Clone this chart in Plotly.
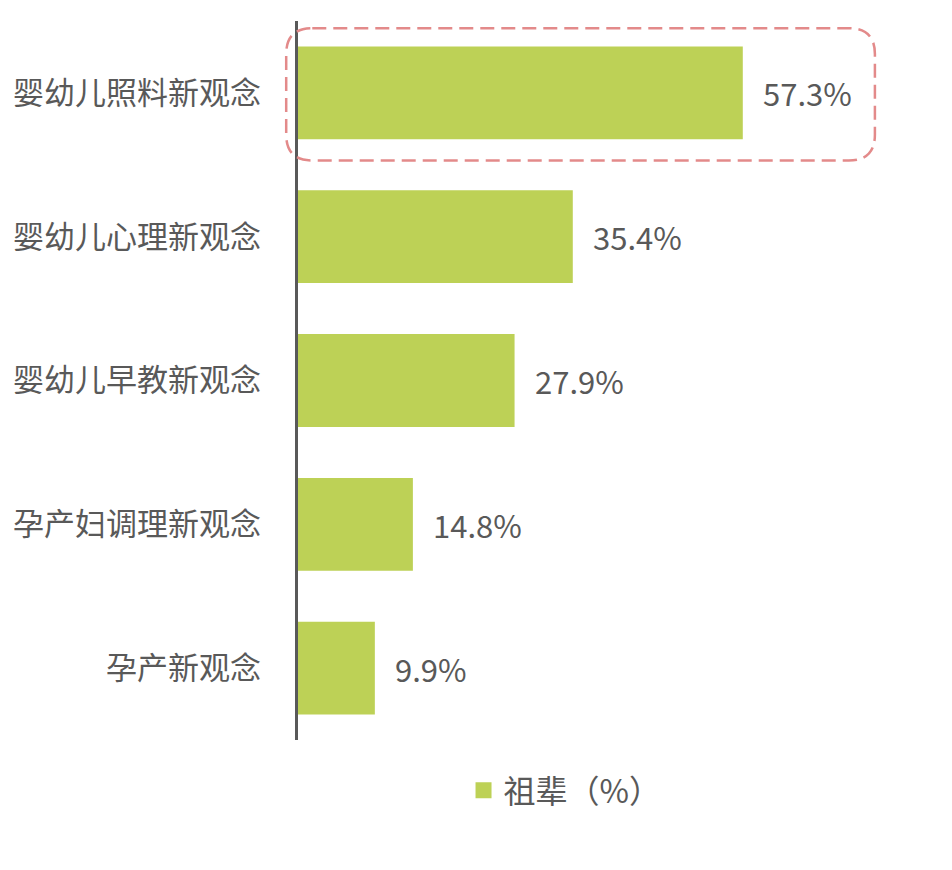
import plotly.graph_objects as go

categories = ["婴幼儿照料新观念", "婴幼儿心理新观念", "婴幼儿早教新观念", "孕产妇调理新观念", "孕产新观念"]
values = [57.3, 35.4, 27.9, 14.8, 9.9]
series_name = "祖辈（%）"

bar_color = "#BDD156"
text_color = "#595959"
font_family = "Noto Sans CJK SC, Noto Sans, sans-serif"

fig = go.Figure()
fig.add_trace(go.Bar(
    x=values,
    y=categories,
    orientation="h",
    name=series_name,
    marker=dict(color=bar_color, line=dict(width=0)),
    showlegend=False,
))
# legend entry with a bigger square swatch
fig.add_trace(go.Scatter(
    x=[None], y=[None], mode="markers", name=series_name,
    marker=dict(symbol="square", size=20, color=bar_color),
    showlegend=True,
))

# value labels to the right of each bar
for cat, val in zip(categories, values):
    fig.add_annotation(
        x=val, y=cat, text=f"{val:.1f}%",
        showarrow=False, xanchor="left", xshift=18,
        font=dict(size=31, color=text_color, family=font_family),
    )

# dashed rounded box around the top bar (paper coords)
x0, x1, y0, y1 = -0.019, 0.929, 0.806, 0.990
rx, ry = 0.042, 0.036
path = (
    f"M {x0 + rx},{y1} L {x1 - rx},{y1} Q {x1},{y1} {x1},{y1 - ry} "
    f"L {x1},{y0 + ry} Q {x1},{y0} {x1 - rx},{y0} "
    f"L {x0 + rx},{y0} Q {x0},{y0} {x0},{y0 + ry} "
    f"L {x0},{y1 - ry} Q {x0},{y1} {x0 + rx},{y1} Z"
)
fig.add_shape(type="path", path=path, xref="paper", yref="paper",
              line=dict(color="#E38A8A", width=2.5, dash="14px,7px"))

fig.update_layout(
    width=952, height=870,
    margin=dict(l=290, r=41, t=13, b=138, autoexpand=False),
    plot_bgcolor="white", paper_bgcolor="white",
    bargap=0.355,
    font=dict(family=font_family, color=text_color, size=28),
    legend=dict(orientation="h", x=0.43, xanchor="center", y=-0.07, yanchor="middle",
                font=dict(size=32, color=text_color), itemwidth=30),
)
fig.update_xaxes(range=[0, 80], showgrid=False, showticklabels=False, zeroline=False,
                 showline=False, automargin=False)
fig.update_yaxes(autorange="reversed", showgrid=False, showline=True, automargin=False,
                 linecolor="#595959", linewidth=2.5, ticks="", ticklabelstandoff=28,
                 tickfont=dict(size=31, color=text_color))

fig.write_html("out.html")
